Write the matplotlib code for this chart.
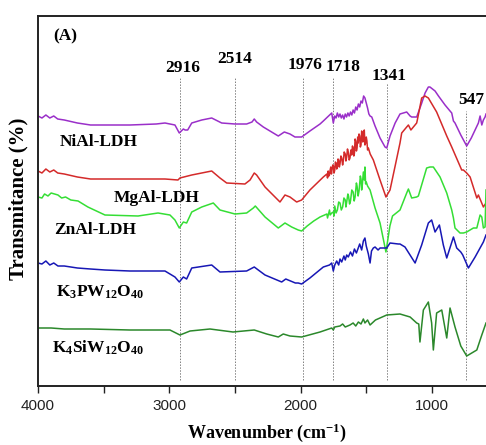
import matplotlib
matplotlib.use("Agg")
import matplotlib.pyplot as plt
from matplotlib.ticker import MultipleLocator

# ── Spectra: (wavenumber cm-1, transmittance a.u.) ─────────────────────────
NIAL_LDH = [
    (4000, 270), (3970, 268), (3940, 271), (3910, 268), (3880, 270), (3850, 267),
    (3800, 266), (3700, 263), (3600, 261), (3452, 261), (3300, 261), (3100, 262),
    (3033, 263), (2957, 261), (2924, 253), (2893, 257), (2880, 256), (2860, 256),
    (2829, 263), (2753, 266), (2677, 268), (2601, 263), (2500, 262), (2411, 262),
    (2370, 264), (2353, 267), (2335, 264), (2284, 259), (2170, 250), (2124, 254),
    (2081, 252), (2043, 249), (1992, 249), (1929, 255), (1852, 262), (1827, 265),
    (1763, 273), (1751, 263), (1740, 270), (1730, 268), (1720, 273), (1710, 269),
    (1700, 272), (1690, 268), (1680, 271), (1670, 267), (1660, 272), (1650, 269),
    (1640, 273), (1630, 270), (1620, 274), (1610, 271), (1600, 276), (1590, 273),
    (1580, 279), (1570, 276), (1560, 282), (1550, 279), (1540, 285), (1530, 283),
    (1520, 290), (1510, 288), (1500, 283), (1490, 278), (1480, 272), (1471, 270),
    (1458, 269), (1433, 260), (1395, 248), (1357, 239), (1344, 238), (1319, 250),
    (1280, 263), (1243, 272), (1192, 274), (1166, 270), (1154, 269), (1116, 269),
    (1080, 282), (1052, 293), (1027, 299), (1015, 299), (976, 295), (950, 290),
    (900, 281), (862, 275), (849, 273), (836, 265), (824, 263), (780, 251),
    (735, 240), (700, 248), (646, 263), (633, 270), (620, 261), (608, 266),
    (595, 269), (588, 272),
]

MGAL_LDH = [
    (4000, 215), (3970, 213), (3940, 217), (3910, 214), (3880, 216), (3850, 213),
    (3800, 212), (3700, 209), (3600, 207), (3490, 207), (3300, 207), (3033, 207),
    (2934, 206), (2919, 208), (2829, 211), (2677, 215), (2614, 208), (2563, 203),
    (2424, 202), (2385, 206), (2353, 213), (2335, 211), (2271, 199), (2157, 184),
    (2119, 191), (2081, 189), (2030, 184), (1992, 186), (1929, 196), (1827, 209),
    (1800, 212), (1795, 208), (1790, 215), (1785, 210), (1780, 211), (1775, 216),
    (1770, 219), (1765, 212), (1763, 214), (1755, 221), (1750, 220), (1745, 213),
    (1740, 216), (1735, 224), (1730, 223), (1725, 217), (1720, 219), (1715, 227),
    (1710, 226), (1705, 219), (1700, 222), (1693, 230), (1687, 228), (1680, 221),
    (1675, 225), (1668, 234), (1660, 232), (1655, 225), (1649, 229), (1643, 237),
    (1637, 234), (1630, 226), (1624, 228), (1617, 236), (1611, 231), (1605, 240),
    (1600, 238), (1595, 230), (1590, 233), (1585, 247), (1580, 245), (1575, 235),
    (1570, 238), (1565, 249), (1561, 243), (1555, 252), (1550, 250), (1545, 239),
    (1540, 241), (1535, 255), (1530, 252), (1526, 244), (1522, 248), (1515, 256),
    (1510, 241), (1505, 243), (1500, 249), (1495, 245), (1490, 236), (1484, 238),
    (1470, 232), (1446, 226), (1395, 206), (1350, 189), (1319, 196),
    (1280, 220), (1243, 243), (1230, 253), (1192, 259), (1179, 261), (1160, 256),
    (1116, 263), (1111, 266), (1078, 288), (1052, 290), (1040, 289), (1027, 288),
    (964, 274), (887, 250), (849, 239), (773, 216), (760, 216), (735, 213),
    (709, 209), (658, 188), (646, 191), (608, 179), (588, 183),
]

ZNAL_LDH = [
    (4000, 189), (3970, 188), (3950, 192), (3924, 190), (3900, 193), (3848, 191),
    (3820, 188), (3790, 189), (3750, 186), (3695, 185), (3620, 179), (3490, 171),
    (3238, 170), (3086, 173), (2995, 171), (2957, 166), (2924, 158), (2893, 164),
    (2868, 163), (2829, 174), (2753, 179), (2665, 183), (2614, 176), (2500, 172),
    (2411, 173), (2360, 178), (2345, 180), (2271, 169), (2170, 158), (2119, 163),
    (2068, 159), (2018, 156), (1992, 155), (1950, 160), (1900, 165), (1852, 169),
    (1800, 172), (1795, 168), (1780, 176), (1775, 171), (1763, 173), (1751, 174),
    (1745, 170), (1740, 180), (1730, 173), (1720, 176), (1710, 184), (1700, 183),
    (1690, 176), (1680, 179), (1670, 188), (1660, 186), (1655, 179), (1649, 184),
    (1640, 192), (1635, 190), (1627, 182), (1620, 185), (1610, 196), (1600, 194),
    (1592, 185), (1585, 189), (1575, 203), (1570, 200), (1562, 190), (1555, 195),
    (1545, 210), (1540, 207), (1535, 196), (1530, 201), (1522, 214), (1515, 206),
    (1510, 219), (1505, 202), (1500, 204), (1490, 200), (1471, 196), (1433, 178),
    (1395, 163), (1350, 134), (1320, 160), (1300, 170), (1243, 176), (1192, 193),
    (1179, 197), (1154, 188), (1116, 189), (1103, 190), (1040, 218), (1015, 219),
    (989, 219), (938, 209), (887, 193), (849, 176), (836, 168), (824, 158),
    (786, 153), (760, 153), (735, 154), (684, 158), (658, 158), (633, 171),
    (620, 169), (608, 158), (595, 159), (588, 196),
]

K3PW12O40 = [
    (4000, 123), (3970, 122), (3940, 125), (3910, 121), (3880, 123), (3848, 120),
    (3800, 120), (3700, 118), (3600, 117), (3490, 116), (3300, 115), (3033, 115),
    (2957, 109), (2924, 104), (2893, 109), (2868, 107), (2829, 118), (2677, 121),
    (2614, 114), (2411, 115), (2353, 119), (2271, 111), (2144, 104), (2113, 107),
    (2040, 103), (2018, 103), (1992, 102), (1929, 108), (1827, 119), (1780, 121),
    (1763, 123), (1751, 115), (1740, 121), (1725, 125), (1710, 121), (1700, 127),
    (1687, 124), (1670, 130), (1660, 126), (1649, 131), (1637, 129), (1620, 134),
    (1605, 130), (1590, 137), (1575, 133), (1561, 138), (1550, 142), (1535, 136),
    (1522, 145), (1510, 148), (1500, 140), (1484, 132), (1471, 123), (1460, 135),
    (1446, 138), (1433, 139), (1410, 136), (1395, 138), (1344, 138), (1319, 143),
    (1256, 142), (1243, 142), (1205, 139), (1128, 123), (1078, 141), (1027, 163),
    (1002, 166), (976, 154), (943, 161), (913, 141), (887, 128), (836, 149),
    (811, 138), (780, 134), (765, 131), (722, 118), (671, 129), (608, 144),
    (588, 151),
]

K4SIW12O40 = [
    (4000, 58), (3900, 58), (3800, 57), (3600, 57), (3300, 56), (2995, 56),
    (2919, 51), (2880, 53), (2842, 55), (2690, 57), (2515, 54), (2353, 56),
    (2258, 52), (2170, 49), (2132, 52), (2081, 50), (1992, 49), (1852, 54),
    (1763, 58), (1751, 56), (1740, 59), (1700, 60), (1680, 62), (1660, 59),
    (1624, 61), (1600, 63), (1580, 60), (1560, 64), (1540, 62), (1522, 67),
    (1510, 63), (1490, 66), (1471, 61), (1430, 66), (1344, 71), (1243, 72),
    (1166, 69), (1116, 63), (1100, 62), (1091, 44), (1078, 60), (1065, 76),
    (1027, 84), (1002, 63), (989, 36), (964, 73), (925, 76), (887, 48),
    (862, 78), (824, 59), (780, 40), (735, 30), (658, 36), (620, 51),
    (588, 63),
]

SAMPLE_NAMES = ["NiAl-LDH", "MgAl-LDH", "ZnAl-LDH",
                r"K$_3$PW$_{12}$O$_{40}$", r"K$_4$SiW$_{12}$O$_{40}$"]

PEAK_LABELS = ["2916", "2514", "1976", "1718", "1341", "547"]

# ── Styling / placement ───────────────────────────────────────────────────
SPECTRA = [NIAL_LDH, MGAL_LDH, ZNAL_LDH, K3PW12O40, K4SIW12O40]
COLORS = ["#9a2fc9", "#d42a2a", "#35de35", "#1717b5", "#2b882b"]
NAME_POS = [(3540, 244), (3094, 188), (3566, 156), (3528, 94), (3543, 38)]

PEAK_LINE_X = [2919, 2500, 1984, 1751, 1344, 740]
PEAK_LINE_TOP = [308, 309, 308, 308, 303, 275]
PEAK_TEXT_POS = [(2896, 318), (2500, 327), (1965, 321), (1677, 319),
                 (1327, 310), (703, 286)]

SERIF = "Liberation Serif"
plt.rcParams["mathtext.fontset"] = "custom"
plt.rcParams["mathtext.rm"] = "Liberation Serif:bold"
plt.rcParams["mathtext.it"] = "Liberation Serif:bold"
plt.rcParams["mathtext.bf"] = "Liberation Serif:bold"

fig = plt.figure(figsize=(4.86, 4.45), dpi=100)
ax = fig.add_axes([38 / 486, 59 / 445, 1 - 38 / 486, 370 / 445])

for spec, col in zip(SPECTRA, COLORS):
    wn, tr = zip(*spec)
    ax.plot(wn, tr, color=col, linewidth=1.1)

for x, top in zip(PEAK_LINE_X, PEAK_LINE_TOP):
    ax.plot([x, x], [6, top], color="#808080", linestyle=(0, (1.5, 1.5)),
            linewidth=0.7, zorder=0)

for lab, (x, y) in zip(PEAK_LABELS, PEAK_TEXT_POS):
    ax.text(x, y, lab, ha="center", va="center", fontsize=12.5,
            fontweight="bold", family=SERIF)

for name, (x, y) in zip(SAMPLE_NAMES, NAME_POS):
    ax.text(x, y, name, ha="center", va="center", fontsize=12.5,
            fontweight="bold", family=SERIF)

ax.text(3794, 350, "(A)", ha="center", va="center", fontsize=12.5,
        fontweight="bold", family=SERIF)

ax.set_xlim(4000, 588)
ax.set_ylim(0, 370)
ax.set_yticks([])
ax.xaxis.set_major_locator(MultipleLocator(1000))
ax.xaxis.set_minor_locator(MultipleLocator(500))
ax.tick_params(axis="x", which="both", direction="out", length=5, width=1.0,
               pad=4, labelsize=11, colors="#222222")
for lbl in ax.get_xticklabels():
    lbl.set_family("Liberation Sans")

ax.spines["right"].set_visible(False)
for s in ("left", "top", "bottom"):
    ax.spines[s].set_linewidth(1.4)
    ax.spines[s].set_color("#222222")

fig.text(267 / 486, 1 - 438 / 445, r"Wavenumber (cm$^{-1}$)",
         ha="center", va="baseline", fontsize=13, fontweight="bold", family=SERIF)
fig.text(18 / 486, 1 - 199 / 445, "Transmitance (%)", rotation=90,
         ha="center", va="center", fontsize=15, fontweight="bold", family=SERIF)

fig.savefig("out.png", dpi=100)
